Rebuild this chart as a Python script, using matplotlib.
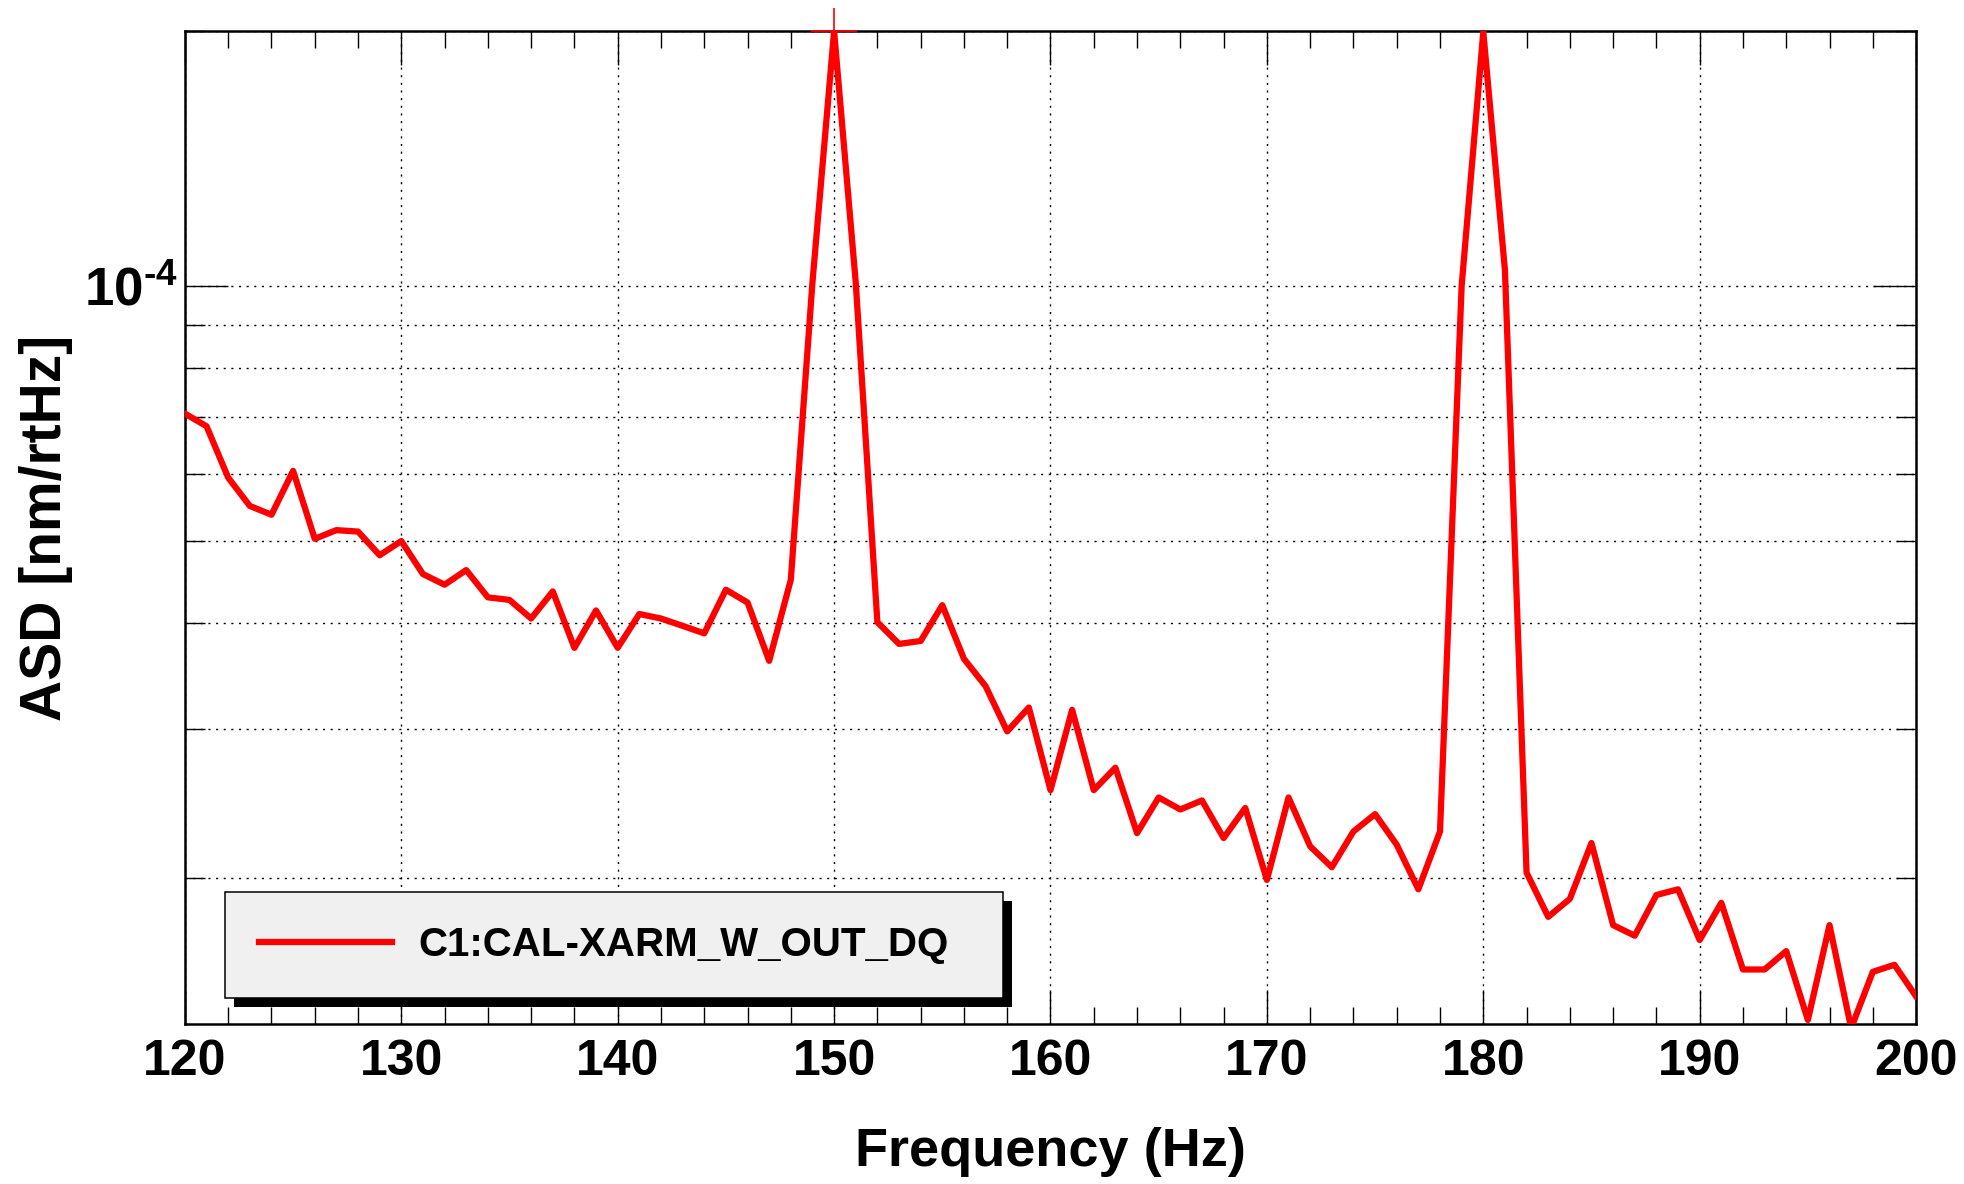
"""
ASD do canal C1:CAL-XARM_W_OUT_DQ entre 120 e 200 Hz
"""

import numpy as np
import matplotlib
matplotlib.use('Agg')
import matplotlib.pyplot as plt
import matplotlib.ticker as mticker
from matplotlib.patches import Rectangle

plt.rcParams['font.family'] = 'Liberation Sans'
plt.rcParams['font.weight'] = 'bold'
plt.rcParams['mathtext.fontset'] = 'custom'
plt.rcParams['mathtext.rm'] = 'Liberation Sans:bold'
plt.rcParams['mathtext.bf'] = 'Liberation Sans:bold'

# Dados
freq = np.arange(120, 201)
asd = [
    7.07e-5, 6.83e-5, 5.94e-5, 5.50e-5, 5.37e-5, 6.05e-5, 5.03e-5, 5.15e-5, 5.13e-5, 4.81e-5,  # 120-129
    5.00e-5, 4.57e-5, 4.44e-5, 4.62e-5, 4.29e-5, 4.26e-5, 4.05e-5, 4.36e-5, 3.74e-5, 4.14e-5,  # 130-139
    3.74e-5, 4.10e-5, 4.05e-5, 3.97e-5, 3.89e-5, 4.38e-5, 4.23e-5, 3.61e-5, 4.50e-5, 1.01e-4,  # 140-149
    2.00e-4, 1.01e-4, 4.01e-5, 3.78e-5, 3.81e-5, 4.20e-5, 3.63e-5, 3.37e-5, 2.98e-5, 3.18e-5,  # 150-159
    2.54e-5, 3.16e-5, 2.54e-5, 2.70e-5, 2.26e-5, 2.49e-5, 2.41e-5, 2.47e-5, 2.23e-5, 2.42e-5,  # 160-169
    1.99e-5, 2.49e-5, 2.18e-5, 2.06e-5, 2.27e-5, 2.38e-5, 2.19e-5, 1.94e-5, 2.27e-5, 1.00e-4,  # 170-179
    1.995e-4, 1.045e-4, 2.03e-5, 1.80e-5, 1.89e-5, 2.20e-5, 1.76e-5, 1.71e-5, 1.91e-5, 1.94e-5,  # 180-189
    1.69e-5, 1.87e-5, 1.56e-5, 1.56e-5, 1.64e-5, 1.36e-5, 1.76e-5, 1.33e-5, 1.55e-5, 1.58e-5,  # 190-199
    1.45e-5,  # 200
]
canal = 'C1:CAL-XARM_W_OUT_DQ'
ymin, ymax = 1.345e-5, 2.0e-4


def rotulo_log(v, pos):
    # estilo ROOT: 10^-4 com hifen
    exp = int(round(np.log10(v)))
    return r'$\mathdefault{10^{\text{%d}}}$' % exp


# =============================================================================
# FIGURA
# =============================================================================
fig = plt.figure(figsize=(19.65, 11.84), dpi=100)
ax = fig.add_axes([0.0941, 0.1351, 0.9751 - 0.0941, 0.9738 - 0.1351])

ax.plot(freq, asd, '-', color='#ff0000', linewidth=4.5, label=canal, zorder=3)
# marcador do pico fora da escala
ax.plot([freq[30]], [ymax], '+', color='#ff0000', markersize=33,
        markeredgewidth=1.2, clip_on=False, zorder=4)

ax.set_yscale('log')
ax.set_xlim(120, 200)
ax.set_ylim(ymin, ymax)

ax.xaxis.set_major_locator(mticker.MultipleLocator(10))
ax.xaxis.set_minor_locator(mticker.MultipleLocator(2))
ax.yaxis.set_major_locator(mticker.LogLocator(base=10))
ax.yaxis.set_minor_locator(mticker.LogLocator(base=10, subs=np.arange(2, 10)))
ax.yaxis.set_major_formatter(mticker.FuncFormatter(rotulo_log))
ax.yaxis.set_minor_formatter(mticker.NullFormatter())

ax.tick_params(axis='x', which='major', direction='in', length=24.5, width=1.0,
               top=True, bottom=True, labelsize=36, pad=11)
ax.tick_params(axis='x', which='minor', direction='in', length=12, width=1.0,
               top=True, bottom=True)
ax.tick_params(axis='y', which='major', direction='in', length=31, width=1.0,
               left=True, right=True, labelsize=38, pad=5)
ax.tick_params(axis='y', which='minor', direction='in', length=14.5, width=1.0,
               left=True, right=True)

for sp in ax.spines.values():
    sp.set_linewidth(1.8)

ax.grid(True, which='major', axis='x', color='black', linestyle=(0, (1.5, 4)), linewidth=1.0)
ax.grid(True, which='both', axis='y', color='black', linestyle=(0, (1.5, 4)), linewidth=1.0)

ax.set_xlabel('Frequency (Hz)', fontsize=39, fontweight='bold')
ax.set_ylabel('ASD [nm/rtHz]', fontsize=41, fontweight='bold')
ax.xaxis.set_label_coords(0.5, -0.104)
ax.yaxis.set_label_coords(-0.0645, 0.5)

# Legenda com sombra preta
leg = ax.legend(loc='lower left', bbox_to_anchor=(0.0231, 0.0262, 0.4495, 0.1057),
                mode='expand', borderaxespad=0, fontsize=29, handlelength=3.3,
                handletextpad=0.65, borderpad=0.85, fancybox=False, framealpha=1,
                facecolor='#f0f0f0', edgecolor='black')
leg.get_frame().set_linewidth(1.1)
leg.set_zorder(6)

fig.canvas.draw()
bb = leg.get_window_extent().transformed(ax.transAxes.inverted())
sombra = Rectangle((bb.x0 + 9 / 1731, bb.y0 - 9 / 993), bb.width, bb.height,
                   transform=ax.transAxes, facecolor='black', edgecolor='none',
                   clip_on=False, zorder=5.5)
ax.add_patch(sombra)

fig.savefig('out.png', dpi=100)
plt.close()
